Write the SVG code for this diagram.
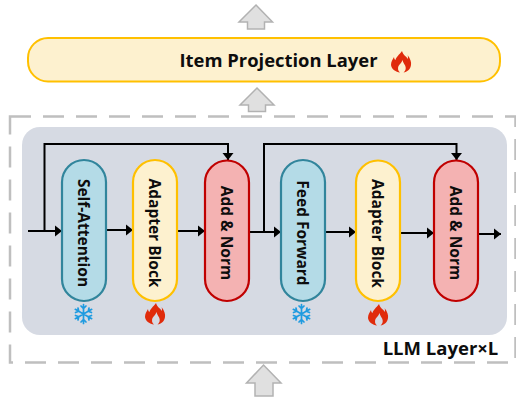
<svg xmlns="http://www.w3.org/2000/svg" width="516" height="398" viewBox="0 0 516 398">
<style>
.t{font-family:"Open Sans","Noto Sans","Liberation Sans",sans-serif;font-weight:700;fill:#0d0d0d;text-anchor:middle}
.v{font-size:15.500px;dominant-baseline:central}
.blk{stroke-width:2.2}
.blue{fill:#b4dbe7;stroke:#31859c}
.yel{fill:#fdf1cf;stroke:#ffc000}
.red{fill:#f4b2b2;stroke:#c00000}
.up{fill:#e0e0e0;stroke:#b2b2b2;stroke-width:1.5}
.c{fill:none;stroke:#000;stroke-width:2}
.fl{fill:#e02b0b}
.sn{stroke:#1f9be0;stroke-width:1.700;fill:none;stroke-linecap:round}
</style>
<defs>
<marker id="a" markerUnits="userSpaceOnUse" markerWidth="8" markerHeight="12" refX="7" refY="6" orient="auto"><path d="M0 0.500L7 6L0 11.500Z" fill="#000"/></marker>
<path id="flame" class="fl" d="M1 -11C2 -7 5 -6 7 -3C7 -5 7 -6 6.500 -7C9.500 -3 10.500 0 10 3C9.500 7.500 6 10 2.500 10.500C5 8.500 5.500 5.500 3.500 2.500C3 1.500 2 0 1.500 -2C0.500 1 -1.500 2 -2.500 4C-3.500 6.500 -3 9 -1 10.500C-5 10 -9.500 7.500 -10 3C-10 0 -8.500 -2.500 -7 -5C-6.800 -3.500 -6.500 -2.500 -5.500 -2C-5 -5 -2 -7 1 -11Z"/>
<g id="snow" class="sn"><path d="M0 -9.500V9.500M-8.200 -4.700L8.200 4.700M-8.200 4.700L8.200 -4.700M-2.500 -8L0 -5.500L2.500 -8M-2.500 8L0 5.500L2.500 8M-8 -1.500L-4.800 -2.800L-5.500 -6M8 1.500L4.800 2.800L5.500 6M-8 1.500L-4.800 2.800L-5.500 6M8 -1.500L4.800 -2.800L5.500 -6"/></g>
</defs>

<rect id="outer" x="10" y="116.500" width="505.500" height="246" fill="none" stroke="#bfbfbf" stroke-width="2.500" stroke-dasharray="21 12"/>
<rect id="panel" x="22" y="127" width="485" height="208" rx="18" fill="#d6dae3"/>

<g id="up-arrows">
<path class="up" d="M256 5L272.500 22H264.500V29H247.500V22H239Z"/>
<path class="up" d="M257 88L274 105H265.500V111.500H248.500V105H240Z"/>
<path class="up" d="M263.500 365L281 383H273V396H255V383H246.500Z"/>
</g>

<g id="projection">
<rect x="28" y="38" width="472" height="43.500" rx="20" class="yel" stroke-width="2"/>
<text class="t" x="278.500" y="67" font-size="18.400">Item Projection Layer</text>
<use href="#flame" transform="translate(401,62)"/>
</g>

<g id="connectors">
<path class="c" d="M28 231H62" marker-end="url(#a)"/>
<path class="c" d="M44.500 231V144H228V160" marker-end="url(#a)"/>
<path class="c" d="M106 230H133" marker-end="url(#a)"/>
<path class="c" d="M177 231H205" marker-end="url(#a)"/>
<path class="c" d="M249 232H281" marker-end="url(#a)"/>
<path class="c" d="M264 232V144H456.500V160" marker-end="url(#a)"/>
<path class="c" d="M325 232H356" marker-end="url(#a)"/>
<path class="c" d="M400 233H434" marker-end="url(#a)"/>
<path class="c" d="M478 234H501" marker-end="url(#a)"/>
</g>

<g id="self-attention">
<rect x="62" y="160" width="44" height="141" rx="22" class="blue blk"/>
<text class="t v" transform="translate(84,233) rotate(90)">Self-Attention</text>
<use href="#snow" transform="translate(83.500,314)"/>
</g>
<g id="adapter-1">
<rect x="133" y="160" width="44" height="141" rx="22" class="yel blk"/>
<text class="t v" transform="translate(155,233) rotate(90)">Adapter Block</text>
<use href="#flame" transform="translate(155,314)"/>
</g>
<g id="add-norm-1">
<rect x="205" y="160.500" width="44" height="140.500" rx="22" class="red blk"/>
<text class="t v" transform="translate(227,233) rotate(90)">Add &amp; Norm</text>
</g>
<g id="feed-forward">
<rect x="281" y="160" width="44" height="141" rx="22" class="blue blk"/>
<text class="t v" transform="translate(303,233) rotate(90)">Feed Forward</text>
<use href="#snow" transform="translate(301.500,314)"/>
</g>
<g id="adapter-2">
<rect x="356" y="160.500" width="44" height="140.500" rx="22" class="yel blk"/>
<text class="t v" transform="translate(378,233.500) rotate(90)">Adapter Block</text>
<use href="#flame" transform="translate(378,315)"/>
</g>
<g id="add-norm-2">
<rect x="434" y="160.500" width="44" height="140.500" rx="22" class="red blk"/>
<text class="t v" transform="translate(456,233) rotate(90)">Add &amp; Norm</text>
</g>
<text id="layer-label" class="t" x="440.500" y="355" font-size="18.500">LLM Layer×L</text>
</svg>
